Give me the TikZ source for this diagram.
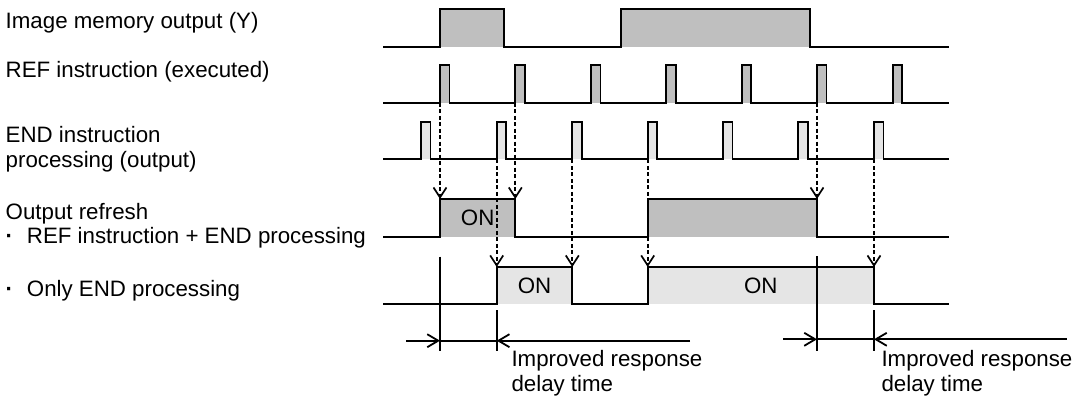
\documentclass[tikz,border=0pt]{standalone}
\usepackage{fontspec}
\setmainfont{Liberation Sans}
\usetikzlibrary{arrows.meta}
\definecolor{fillref}{gray}{0.75}
\definecolor{fillend}{gray}{0.9}
\tikzset{
  wave/.style={line width=1.8pt, line join=miter},
  trig/.style={line width=1.7pt, dash pattern=on 4pt off 2.5pt, -{Straight Barb[length=10pt,width=13pt]}},
  dimline/.style={line width=1.8pt},
  dimarrow/.style={line width=1.8pt, -{Straight Barb[length=11pt,width=13pt]}},
  lbl/.style={anchor=base west, inner sep=0pt, align=left, font=\fontsize{22.3}{24.5}\selectfont},
  onlbl/.style={inner sep=0pt, font=\fontsize{22.3}{24.5}\selectfont}
}
\newcommand{\bulletdot}{\textbf{·}\hspace{13.8pt}}
\begin{document}
\begin{tikzpicture}[x=1pt,y=-1pt]
	\useasboundingbox (0,0) rectangle (1080,400);
	% signal names (base = last line)
	\node[lbl] (img) at (5.5,28.5) {Image memory output (Y)};
	\node[lbl] (ref) at (5.5,77) {REF instruction (executed)};
	\node[lbl] (end) at (5.5,167.3) {END instruction\\processing (output)};
	\node[lbl] (both) at (5.5,243.5) {Output refresh\\\bulletdot REF instruction + END processing};
	\node[lbl] (only) at (5.5,296.7) {\bulletdot Only END processing};
	% fills
	\fill[fillref] (440,9) rectangle (504.3,46.7);
	\fill[fillref] (621,9) rectangle (810,46.7);
	\foreach \x in {440,515.3,591,666.3,741.7,817,892.7}
		\fill[fillref] (\x,65) rectangle ++(9.5,37.7);
	\foreach \x in {421,496.7,572.3,647.7,723,798.3,874}
		\fill[fillend] (\x,121.7) rectangle ++(9.5,37.6);
	\fill[fillref] (440,199) rectangle (515.3,236.7);
	\fill[fillref] (647.7,199) rectangle (817,236.7);
	\fill[fillend] (496.7,267) rectangle (572.3,304.3);
	\fill[fillend] (647.7,267) rectangle (874,304.3);
	\node[onlbl] (on1) at (477.7,217.8) {ON};
	\node[onlbl] (on2) at (534.5,285.6) {ON};
	\node[onlbl] (on3) at (760.8,285.6) {ON};
	% trigger points
	\coordinate (ref1) at (440,102.7);
	\coordinate (ref2) at (515.3,102.7);
	\coordinate (ref6) at (817,102.7);
	\coordinate (end2) at (496.7,159.3);
	\coordinate (end3) at (572.3,159.3);
	\coordinate (end4) at (647.7,159.3);
	\coordinate (end7) at (874,159.3);
	\coordinate (both1) at (440,199);
	\coordinate (both2) at (515.3,199);
	\coordinate (both3) at (817,199);
	\coordinate (only1) at (496.7,267);
	\coordinate (only2) at (572.3,267);
	\coordinate (only3) at (647.7,267);
	\coordinate (only4) at (874,267);
	\draw[trig] (ref1) -- (both1);
	\draw[trig] (ref2) -- (both2);
	\draw[trig] (ref6) -- (both3);
	\draw[trig] (end2) -- (only1);
	\draw[trig] (end3) -- (only2);
	\draw[trig] (end4) -- (only3);
	\draw[trig] (end7) -- (only4);
	% waveforms
	\draw[wave] (383,46.7) -- (440,46.7) -- (440,9) -- (504.3,9) -- (504.3,46.7) -- (621,46.7)
		-- (621,9) -- (810,9) -- (810,46.7) -- (949.3,46.7);
	\draw[wave] (383,102.7) \foreach \x in {440,515.3,591,666.3,741.7,817,892.7}
		{ -- (\x,102.7) -- (\x,65) -- ++(9.5,0) -- ++(0,37.7) } -- (949.3,102.7);
	\draw[wave] (383,159.3) \foreach \x in {421,496.7,572.3,647.7,723,798.3,874}
		{ -- (\x,159.3) -- (\x,121.7) -- ++(9.5,0) -- ++(0,37.6) } -- (949.3,159.3);
	\draw[wave] (383,236.7) -- (440,236.7) -- (440,199) -- (515.3,199) -- (515.3,236.7) -- (647.7,236.7)
		-- (647.7,199) -- (817,199) -- (817,236.7) -- (949.3,236.7);
	\draw[wave] (383,304.3) -- (496.7,304.3) -- (496.7,267) -- (572.3,267) -- (572.3,304.3) -- (647.7,304.3)
		-- (647.7,267) -- (874,267) -- (874,304.3) -- (949.3,304.3);
	% response delay marks
	\coordinate (m1t) at (440,256.7);
	\coordinate (m1b) at (440,350.7);
	\coordinate (m2t) at (496.7,310);
	\coordinate (m2b) at (496.7,350.7);
	\coordinate (m3t) at (817,256);
	\coordinate (m3b) at (817,350.7);
	\coordinate (m4t) at (874,310);
	\coordinate (m4b) at (874,350.7);
	\draw[dimline] (m1t) -- (m1b);
	\draw[dimline] (m2t) -- (m2b);
	\draw[dimline] (m3t) -- (m3b);
	\draw[dimline] (m4t) -- (m4b);
	\coordinate (d1l) at (406,340.7);
	\coordinate (d1a) at (440,340.7);
	\coordinate (d1b) at (496.7,340.7);
	\coordinate (d1r) at (690,340.7);
	\coordinate (d2l) at (783.3,339.3);
	\coordinate (d2a) at (817,339.3);
	\coordinate (d2b) at (874,339.3);
	\coordinate (d2r) at (1066.7,339.3);
	\draw[dimarrow] (d1l) -- (d1a);
	\draw[dimline] (d1a) -- (d1b);
	\draw[dimarrow] (d1r) -- (d1b);
	\draw[dimarrow] (d2l) -- (d2a);
	\draw[dimline] (d2a) -- (d2b);
	\draw[dimarrow] (d2r) -- (d2b);
	\node[lbl] (dly1) at (511.3,391) {Improved response\\delay time};
	\node[lbl] (dly2) at (881.3,391) {Improved response\\delay time};
\end{tikzpicture}
\end{document}
